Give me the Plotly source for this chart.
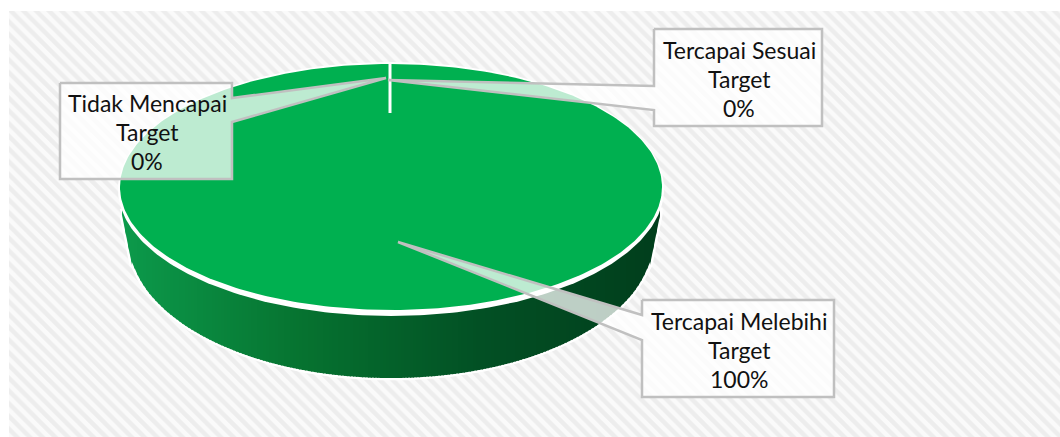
import numpy as np
import plotly.graph_objects as go

# ---- data ----
categories = ["Tidak Mencapai<br>Target", "Tercapai Sesuai<br>Target", "Tercapai Melebihi<br>Target"]
values = [0, 0, 100]

# ---- layout constants (pixel space) ----
W, H = 1060, 437
CX, CY, RX, RY = 391, 187, 271, 123
BOT_CY, BOT_RX, BOT_RY = 240, 262, 138
GREEN = "#00B050"
BORDER = "#C0C0C0"
BOX_FILL = "rgba(255,255,255,0.74)"
LINE_GAP = 29

boxes = [  # left, top, right, bottom, tip x, tip y, join y1, join y2, join side
    (60, 83, 232, 179, 386, 78, 98, 122, "r"),
    (654, 29, 822, 126, 388, 80, 86, 110, "l"),
    (642, 300, 834, 397, 398, 242, 315, 340, "l"),
]

fig = go.Figure()

# hatched chart area
fig.add_trace(go.Bar(
    x=[(9 + W) / 2], width=[W - 9], base=[11], y=[H - 11],
    marker=dict(color="white", line=dict(width=0),
                pattern=dict(shape="\\", size=9, solidity=0.5, fgcolor="#E0E0E0", bgcolor="#FAFAFA")),
    hoverinfo="skip", showlegend=False))


def top_arc(x):
    return CY + 3 + (RY + 1) * np.sqrt(np.clip(1 - ((x - CX) / (RX + 1)) ** 2, 0, 1))


def bot_arc(x):
    x = np.asarray(x, dtype=float)
    y = BOT_CY + BOT_RY * np.sqrt(np.clip(1 - ((x - CX) / BOT_RX) ** 2, 0, 1))
    left = 215 + (x - 122) * (270 - 215) / 11
    right = 215 + (660 - x) * (270 - 215) / 11
    y = np.where(x < 133, left, y)
    y = np.where(x > 649, right, y)
    return y


def lerp_color(x):
    xs = [122, 300, 480, 660]
    r = np.interp(x, xs, [12, 6, 2, 1])
    g = np.interp(x, xs, [154, 115, 80, 62])
    b = np.interp(x, xs, [75, 48, 36, 28])
    return f"rgb({r:.0f},{g:.0f},{b:.0f})"


# side wall halo
xs_full = np.arange(122, 661, 2.0)
fig.add_trace(go.Scatter(
    x=list(xs_full) + list(xs_full[::-1]),
    y=list(bot_arc(xs_full)) + list(top_arc(xs_full[::-1])),
    mode="lines", line=dict(color="white", width=5), fill="toself", fillcolor="white",
    hoverinfo="skip", showlegend=False))

# side wall gradient strips
for x0 in np.arange(122, 660, 3.0):
    xx = np.linspace(x0, min(x0 + 4, 660), 3)
    fig.add_trace(go.Scatter(
        x=list(xx) + list(xx[::-1]),
        y=list(bot_arc(xx)) + list(top_arc(xx[::-1])),
        mode="lines", line=dict(width=0), fill="toself", fillcolor=lerp_color(x0 + 1.5),
        hoverinfo="skip", showlegend=False))

# top face: white rim + slices, from the values
th = np.linspace(0, 2 * np.pi, 361)
fig.add_trace(go.Scatter(
    x=CX + (RX + 2) * np.sin(th), y=CY + 2 + (RY + 4) * np.cos(th),
    mode="lines", line=dict(width=0), fill="toself", fillcolor="white",
    hoverinfo="skip", showlegend=False))

total = sum(values)
start = 0.0
for v in values:
    share = v / total
    if share > 0:
        a = np.linspace(start, start + share * 2 * np.pi, 361)
        fig.add_trace(go.Scatter(
            x=CX + RX * np.sin(a), y=CY - RY * np.cos(a),
            mode="lines", line=dict(width=0), fill="toself", fillcolor=GREEN,
            hoverinfo="skip", showlegend=False))
    start += share * 2 * np.pi

# zero-size slice separator
fig.add_trace(go.Scatter(x=[390, 390], y=[62, 113], mode="lines",
                         line=dict(color="white", width=3), hoverinfo="skip", showlegend=False))

# callouts
for (l, t, r, b, tx, ty, j1, j2, side) in boxes:
    if side == "r":
        px = [l, r, r, tx, r, r, l, l]
        py = [t, t, j1, ty, j2, b, b, t]
    else:
        px = [l, r, r, l, l, tx, l, l]
        py = [t, t, b, b, j2, ty, j1, t]
    fig.add_trace(go.Scatter(x=px, y=py, mode="lines", fill="toself", fillcolor=BOX_FILL,
                             line=dict(color=BORDER, width=2.5), hoverinfo="skip", showlegend=False))

for cat, v, (l, t, r, b, *_ ) in zip(categories, values, boxes):
    lines = cat.split("<br>") + [f"{v / total:.0%}"]
    mid = (t + b) / 2 + 1
    for i, line in enumerate(lines):
        fig.add_annotation(x=(l + r) / 2 + 1, y=mid + (i - 1) * LINE_GAP, text=line,
                           showarrow=False, align="center", xanchor="center", yanchor="middle",
                           font=dict(family="Lato", size=23, color="#111111"))

fig.update_layout(
    width=W, height=H, autosize=False, margin=dict(l=0, r=0, t=0, b=0),
    paper_bgcolor="white", plot_bgcolor="white", showlegend=False, bargap=0,
    xaxis=dict(range=[0, W], visible=False, fixedrange=True),
    yaxis=dict(range=[H, 0], visible=False, fixedrange=True),
)
fig.write_html("out.html", config={"displayModeBar": False},
               post_script="document.body.style.margin='0';document.body.style.overflow='hidden';")
